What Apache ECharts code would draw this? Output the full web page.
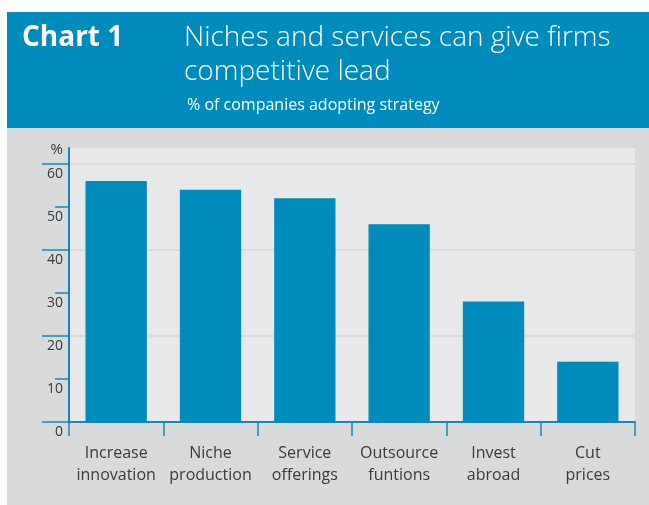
<!DOCTYPE html>
<html>
<head>
<meta charset="utf-8">
<script src="https://cdn.jsdelivr.net/npm/echarts@6/dist/echarts.min.js"></script>
<style>
  html, body { margin: 0; padding: 0; background: #ffffff; }
  #chart { width: 649px; height: 505px; }
</style>
</head>
<body>
<div id="chart"></div>
<script>
// Survey results: share of companies adopting each strategy (%)
const categories = ['Increase\ninnovation', 'Niche\nproduction', 'Service\nofferings', 'Outsource\nfuntions', 'Invest\nabroad', 'Cut\nprices'];
const shares = [56, 54, 52, 46, 28, 14];

// Value-axis tick labels, long ticks (with gridlines) and short ticks
const labelTicks = [0, 10, 20, 30, 40, 50, 60];
const majorTicks = [0, 20, 40, 60];
const minorTicks = [10, 30, 50];

const chartLabel = 'Chart 1';
const headline = 'Niches and services can give firms\ncompetitive lead';
const subhead = '% of companies adopting strategy';

const FONT = '"Open Sans", "Noto Sans", sans-serif';
const BLUE = '#008bbd';
const AXIS_BLUE = '#1787b7';
const TEXT = '#3a3a3a';

const chart = echarts.init(document.getElementById('chart'), null, { renderer: 'canvas' });

const yBase = {
  type: 'value',
  min: 0,
  max: 63.7,
  position: 'left',
  axisLine: { show: false },
  axisLabel: { show: false },
  splitLine: { show: false },
  axisTick: { show: false }
};

chart.setOption({
  backgroundColor: '#d9dadc',
  animation: false,
  textStyle: { fontFamily: FONT },
  graphic: [
    { type: 'rect', z: -10, shape: { x: 0, y: 0, width: 649, height: 12 }, style: { fill: '#ffffff' } },
    { type: 'rect', z: -10, shape: { x: 0, y: 0, width: 7, height: 505 }, style: { fill: '#ffffff' } },
    { type: 'rect', z: -9, shape: { x: 7, y: 12, width: 642, height: 116 }, style: { fill: BLUE } }
  ],
  title: [
    {
      text: chartLabel, left: 17, top: 19,
      textStyle: { color: '#ffffff', fontFamily: FONT, fontSize: 28, fontWeight: 'bold' }
    },
    {
      text: headline, left: 179, top: 16,
      textStyle: { color: '#ffffff', fontFamily: FONT, fontSize: 28, fontWeight: 300, lineHeight: 34 }
    },
    {
      text: subhead, left: 182, top: 92,
      textStyle: { color: '#ffffff', fontFamily: FONT, fontSize: 16, fontWeight: 'normal' }
    }
  ],
  grid: {
    left: 69, right: 14, top: 148, bottom: 83,
    show: true, backgroundColor: '#e7e8ea', borderWidth: 0,
    containLabel: false
  },
  xAxis: {
    type: 'category',
    data: categories,
    boundaryGap: true,
    axisLine: { show: true, lineStyle: { color: AXIS_BLUE, width: 2 } },
    axisTick: { show: true, interval: 0, length: 14, lineStyle: { color: AXIS_BLUE, width: 1.5 } },
    axisLabel: {
      interval: 0, color: TEXT, fontFamily: FONT, fontSize: 16, lineHeight: 22, margin: 20
    },
    splitLine: { show: false }
  },
  yAxis: [
    Object.assign({}, yBase, {
      name: '%',
      nameLocation: 'end',
      nameGap: 0,
      nameTextStyle: { color: TEXT, fontFamily: FONT, fontSize: 15, align: 'right', verticalAlign: 'top', lineHeight: 4, padding: [0, 6, 0, 0] },
      axisLine: { show: true, lineStyle: { color: AXIS_BLUE, width: 2 } },
      axisTick: { show: true, customValues: majorTicks, length: 27, lineStyle: { color: AXIS_BLUE, width: 1.5 } },
      axisLabel: {
        show: true, customValues: labelTicks, color: TEXT, fontFamily: FONT, fontSize: 14,
        margin: 6, verticalAlign: 'top', lineHeight: 21
      },
      splitLine: { show: true, lineStyle: { color: '#d6d7d9', width: 1.5 } }
    }),
    Object.assign({}, yBase, {
      axisTick: { show: true, customValues: minorTicks, length: 14, lineStyle: { color: AXIS_BLUE, width: 1.5 } }
    })
  ],
  series: [
    {
      type: 'bar',
      data: shares,
      yAxisIndex: 0,
      barCategoryGap: '35%',
      itemStyle: { color: BLUE },
      silent: true
    }
  ]
});
</script>
</body>
</html>
